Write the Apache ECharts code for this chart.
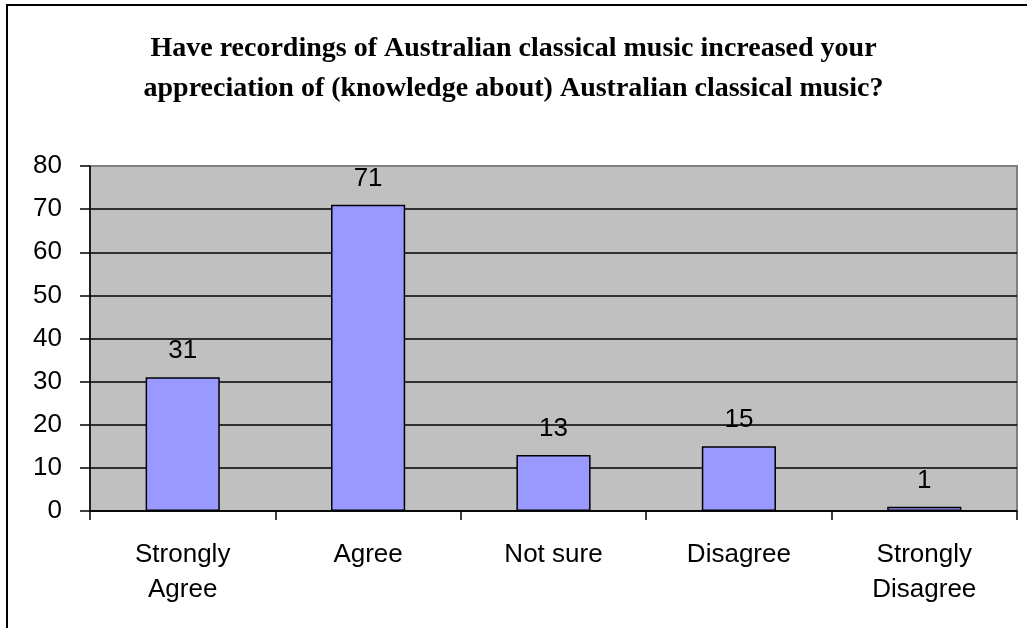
<!DOCTYPE html>
<html>
<head>
<meta charset="utf-8">
<style>
  html, body { margin: 0; padding: 0; background: #fff; }
  #chart { width: 1027px; height: 628px; }
</style>
<script src="https://cdn.jsdelivr.net/npm/echarts@6/dist/echarts.min.js"></script>
</head>
<body>
<div id="chart"></div>
<script>
// Survey responses
const categories = ['Strongly\nAgree', 'Agree', 'Not sure', 'Disagree', 'Strongly\nDisagree'];
const responses = [31, 71, 13, 15, 1];
const titleText = 'Have recordings of Australian classical music increased your\nappreciation of (knowledge about) Australian classical music?';

const chart = echarts.init(document.getElementById('chart'));

// horizontal grid lines 0..80; the top one is left to the plot border
const gridLineColors = ['#000', '#000', '#000', '#000', '#000', '#000', '#000', '#000', 'rgba(0,0,0,0)'];

chart.setOption({
  animation: false,
  backgroundColor: '#fff',
  graphic: [{
    type: 'rect',
    shape: { x: 7, y: 5, width: 1200, height: 800 },
    style: { fill: 'none', stroke: '#000', lineWidth: 2 },
    silent: true
  }],
  title: {
    text: titleText,
    left: 'center',
    top: 24,
    textStyle: {
      fontFamily: 'Liberation Serif',
      fontWeight: 'bold',
      fontSize: 28,
      lineHeight: 40,
      color: '#000'
    }
  },
  grid: {
    left: 90, right: 10, top: 166, bottom: 117,
    show: true,
    backgroundColor: '#C0C0C0',
    borderColor: '#808080',
    borderWidth: 2
  },
  xAxis: {
    type: 'category',
    data: categories,
    axisLine: { show: true, lineStyle: { color: '#000', width: 1.5 } },
    axisTick: { show: true, length: 9, alignWithLabel: false, lineStyle: { color: '#000', width: 1.5 } },
    axisLabel: {
      fontFamily: 'Liberation Sans',
      fontSize: 26,
      lineHeight: 35,
      color: '#000',
      margin: 26,
      interval: 0
    }
  },
  yAxis: {
    type: 'value',
    min: 0, max: 80, interval: 10,
    axisLine: { show: true, lineStyle: { color: '#000', width: 1.5 } },
    axisTick: { show: true, length: 10, lineStyle: { color: '#000', width: 1.5 } },
    axisLabel: {
      fontFamily: 'Liberation Sans',
      fontSize: 26,
      color: '#000',
      margin: 28
    },
    splitLine: { show: true, lineStyle: { color: gridLineColors, width: 1.5 } }
  },
  series: [{
    type: 'bar',
    data: responses,
    barWidth: '40%',
    itemStyle: { color: '#9999FF', borderColor: '#000', borderWidth: 1.5 },
    label: {
      show: true,
      position: 'top',
      distance: 13,
      fontFamily: 'Liberation Sans',
      fontSize: 26,
      color: '#000'
    }
  }]
});
</script>
</body>
</html>
